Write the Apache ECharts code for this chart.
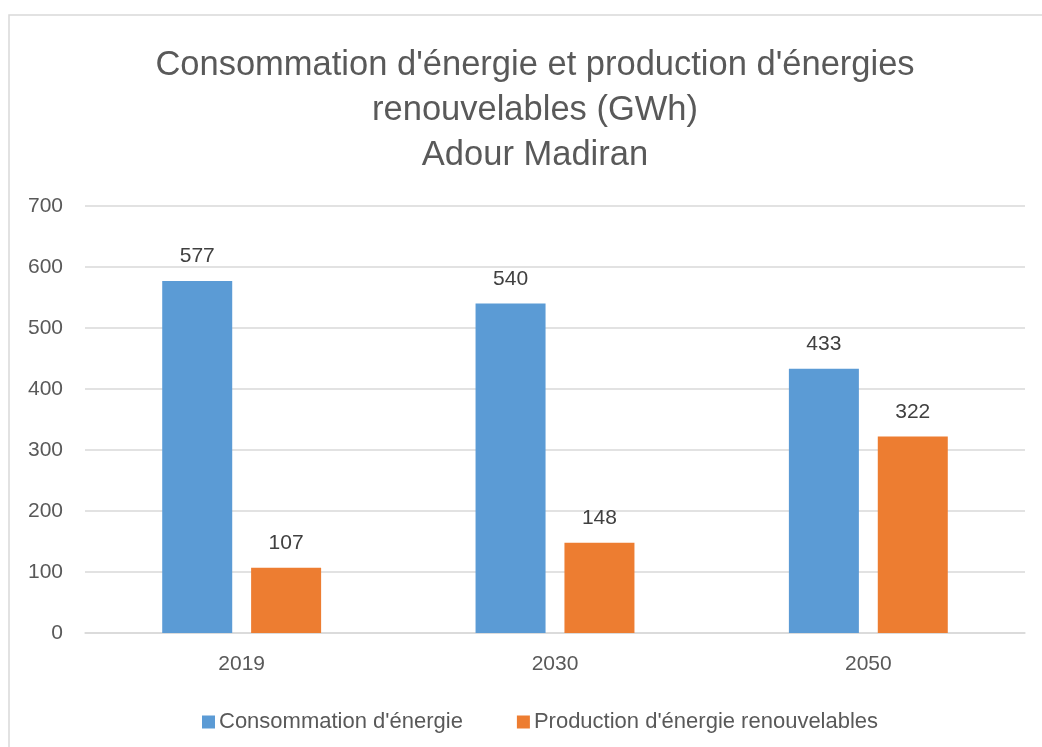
<!doctype html>
<html>

<head>
	<meta charset="utf-8">
	<title></title>
	<script type="text/javascript" src="https://cdn.jsdelivr.net/npm/echarts@6/dist/echarts.min.js"></script>
	<style>
		body { margin: 0; background: #fff; }
	</style>
</head>

<body>
	<div id="main" style="width: 1042px;height:747px;"></div>
	<script type="text/javascript">
		var annees = ['2019', '2030', '2050'];
		var consommation = [577, 540, 433];
		var production = [107, 148, 322];
		var nomsSeries = ["Consommation d'énergie", "Production d'énergie renouvelables"];

		var police = "'Liberation Sans', sans-serif";
		var myChart = echarts.init(document.getElementById('main'));

		option = {
			animation: false,
			textStyle: { fontFamily: police },
			graphic: [{
				type: 'rect',
				shape: { x: 9, y: 15, width: 1100, height: 800 },
				style: { fill: 'none', stroke: '#d9d9d9', lineWidth: 1.5 },
				silent: true
			}],
			title: {
				text: "Consommation d'énergie et production d'énergies\nrenouvelables (GWh)\nAdour Madiran",
				left: 530,
				textAlign: 'center',
				top: 38,
				textStyle: {
					fontFamily: police,
					fontWeight: 'normal',
					fontSize: 34.5,
					lineHeight: 45,
					color: '#595959'
				}
			},
			legend: {
				data: nomsSeries,
				top: 706,
				left: 197,
				itemWidth: 13,
				itemHeight: 13,
				itemGap: 54,
				icon: 'rect',
				textStyle: { fontFamily: police, fontSize: 22, color: '#595959', padding: [0, 0, 0, -1] }
			},
			grid: {
				left: 85,
				right: 17,
				top: 206,
				bottom: 114
			},
			xAxis: {
				type: 'category',
				data: annees,
				axisLine: { lineStyle: { color: '#d9d9d9', width: 1.5 } },
				axisTick: { show: false },
				axisLabel: { fontFamily: police, fontSize: 21, color: '#595959', margin: 21 }
			},
			yAxis: {
				type: 'value',
				min: 0,
				max: 700,
				interval: 100,
				axisLine: { show: false },
				axisTick: { show: false },
				splitLine: { lineStyle: { color: '#d9d9d9', width: 1.5 } },
				axisLabel: { fontFamily: police, fontSize: 21, color: '#595959', margin: 22 }
			},
			series: [
				{
					name: nomsSeries[0],
					type: 'bar',
					data: consommation,
					barWidth: 70,
					barGap: '27%',
					itemStyle: { color: '#5b9bd5' },
					label: { show: true, position: 'top', distance: 14, fontFamily: police, fontSize: 21, color: '#404040' }
				},
				{
					name: nomsSeries[1],
					type: 'bar',
					data: production,
					barWidth: 70,
					barGap: '27%',
					itemStyle: { color: '#ed7d31' },
					label: { show: true, position: 'top', distance: 14, fontFamily: police, fontSize: 21, color: '#404040' }
				}
			]
		};

		myChart.setOption(option);
	</script>
</body>

</html>
